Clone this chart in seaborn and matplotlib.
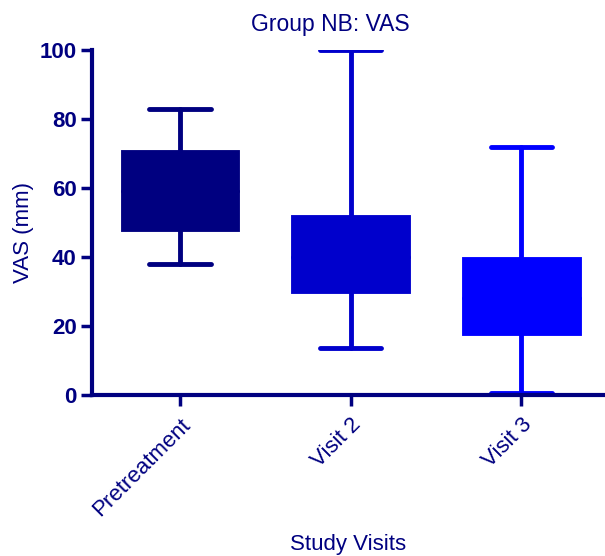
import matplotlib
matplotlib.use("Agg")
import matplotlib.pyplot as plt
import seaborn as sns
import pandas as pd

categories = ["Pretreatment", "Visit 2", "Visit 3"]
# five-number summaries: min, Q1, median, Q3, max
pre_vals = [38, 48, 59, 70.5, 83]
v2_vals = [13.5, 30, 40, 51.5, 100]
v3_vals = [0.5, 18, 28, 39.5, 72]
colors = ["#000080", "#0000CC", "#0000FF"]
yticks = [0, 20, 40, 60, 80, 100]

sns.set_theme(style="white")
plt.rcParams['font.family'] = ['Liberation Sans', 'DejaVu Sans']
navy = "#000080"

rows = []
for cat, vals in zip(categories, [pre_vals, v2_vals, v3_vals]):
    for v in vals:
        rows.append({"visit": cat, "VAS": v})
df = pd.DataFrame(rows)

fig = plt.figure(figsize=(6.05, 5.56), dpi=100)
ax = fig.add_axes([0.152, 0.29, 0.848, 0.62])

pal = dict(zip(categories, colors))
sns.boxplot(data=df, x="visit", y="VAS", hue="visit", palette=pal, order=categories,
            whis=(0, 100), width=0.67, legend=False, ax=ax, saturation=1,
            linewidth=3.5, capwidths=0.36)

for ln in ax.lines:
    xd = ln.get_xdata()
    if len(xd) == 0:
        continue
    xm = sum(xd) / len(xd)
    idx = max(0, min(2, int(round(xm))))
    ln.set_color(colors[idx])
    ln.set_linewidth(3.5)
    ln.set_solid_capstyle("round")
for p in ax.patches:
    p.set_edgecolor(p.get_facecolor())

ax.set_ylim(0, 100)
ax.set_xlim(-0.515, 2.49)
ax.set_yticks(yticks)
ax.set_yticklabels([str(t) for t in yticks], fontsize=16, fontweight="bold", color=navy)
ax.set_xticks(range(len(categories)))
ax.set_xticklabels(categories, rotation=45, ha="right", rotation_mode="anchor",
                   fontsize=16, color=navy)
ax.set_xlabel("Study Visits", fontsize=16, color=navy, labelpad=10)
ax.set_ylabel("VAS (mm)", fontsize=16, color=navy, labelpad=6)
ax.yaxis.set_label_coords(-0.113, 0.47)
ax.set_title("Group NB: VAS", fontsize=16.5, color=navy, pad=14, x=0.464)

for s in ["top", "right"]:
    ax.spines[s].set_visible(False)
for s in ["left", "bottom"]:
    ax.spines[s].set_color(navy)
    ax.spines[s].set_linewidth(3)
ax.tick_params(axis="y", direction="out", length=8, width=2.5, color=navy,
               left=True, pad=3)
ax.tick_params(axis="x", direction="out", length=8, width=2.5, color=navy,
               bottom=True, pad=6)
ax.grid(False)

fig.savefig("out.png", dpi=100)
